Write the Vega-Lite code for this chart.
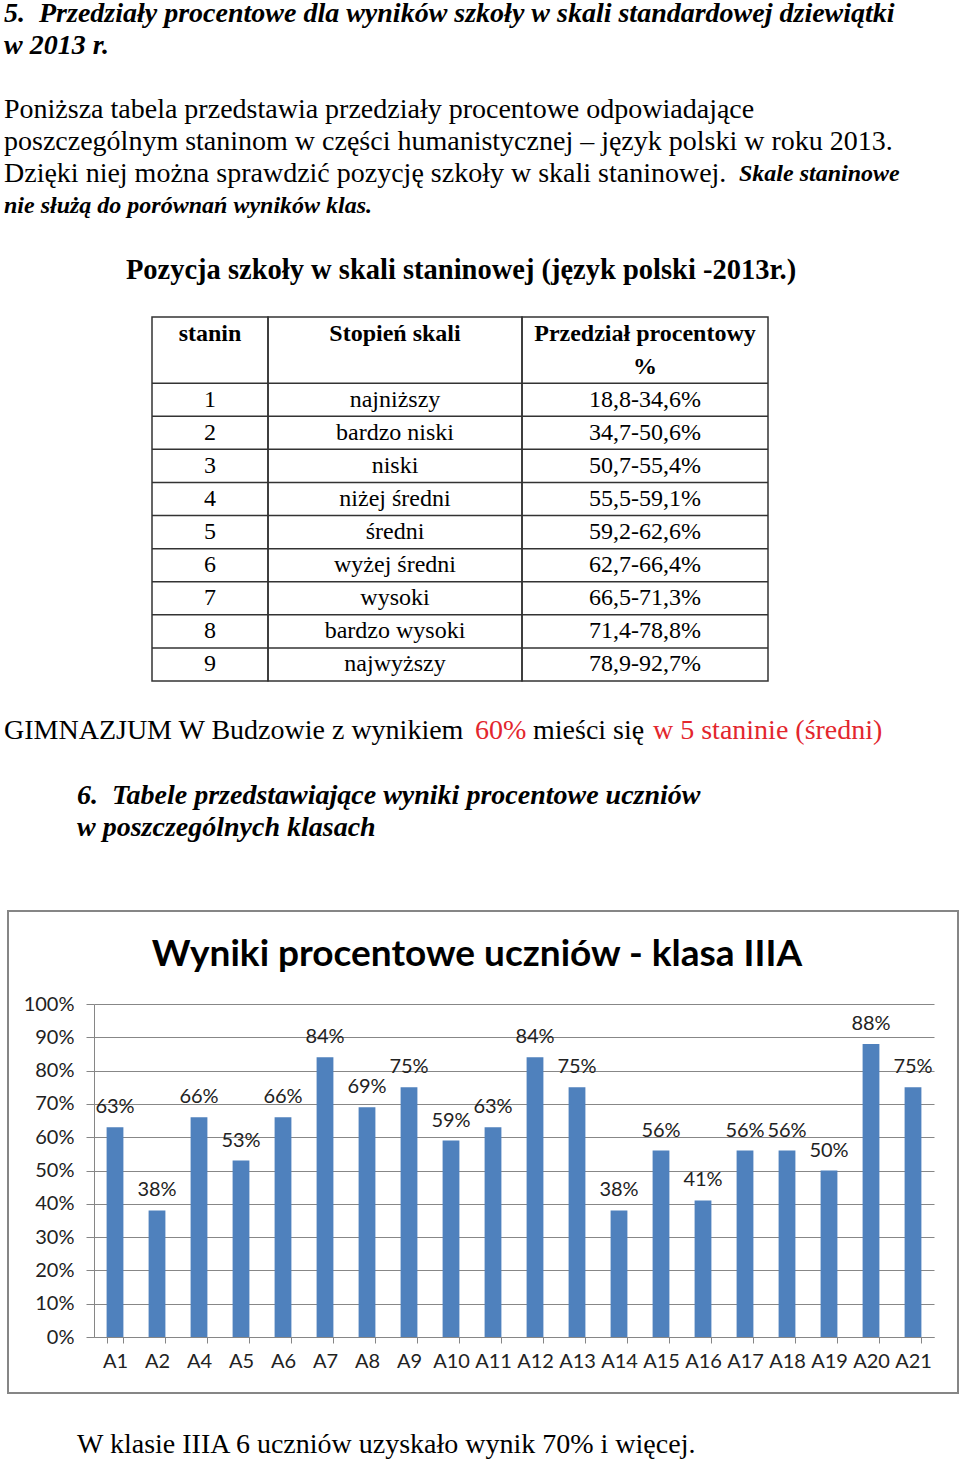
{
  "$schema": "https://vega.github.io/schema/vega-lite/v6.json",
  "background": "white",
  "padding": 0,
  "spacing": 0,
  "config": {"view": {"stroke": null}, "text": {"font": "Liberation Serif", "color": "#000"}},
  "datasets": {
    "tabela": [
      {"row": "h1", "part": "h", "stanin": "stanin", "stopien": "Stopień skali", "przedzial": "Przedział procentowy"},
      {"row": "h2", "part": "h", "stanin": "", "stopien": "", "przedzial": "%"},
      {"row": "1", "part": "b", "stanin": "1", "stopien": "najniższy", "przedzial": "18,8-34,6%"},
      {"row": "2", "part": "b", "stanin": "2", "stopien": "bardzo niski", "przedzial": "34,7-50,6%"},
      {"row": "3", "part": "b", "stanin": "3", "stopien": "niski", "przedzial": "50,7-55,4%"},
      {"row": "4", "part": "b", "stanin": "4", "stopien": "niżej średni", "przedzial": "55,5-59,1%"},
      {"row": "5", "part": "b", "stanin": "5", "stopien": "średni", "przedzial": "59,2-62,6%"},
      {"row": "6", "part": "b", "stanin": "6", "stopien": "wyżej średni", "przedzial": "62,7-66,4%"},
      {"row": "7", "part": "b", "stanin": "7", "stopien": "wysoki", "przedzial": "66,5-71,3%"},
      {"row": "8", "part": "b", "stanin": "8", "stopien": "bardzo wysoki", "przedzial": "71,4-78,8%"},
      {"row": "9", "part": "b", "stanin": "9", "stopien": "najwyższy", "przedzial": "78,9-92,7%"}
    ],
    "linie": [
      {"row": "1"}, {"row": "2"}, {"row": "3"}, {"row": "4"}, {"row": "5"},
      {"row": "6"}, {"row": "7"}, {"row": "8"}, {"row": "9"}
    ]
  },
  "vconcat": [
    {
      "width": 960,
      "height": 316,
      "data": {"values": [
        {"line": 0, "kind": "h", "text": "5.\u00a0 Przedziały procentowe dla wyników szkoły w skali standardowej dziewiątki"},
        {"line": 1, "kind": "h", "text": "w 2013 r."},
        {"line": 3, "kind": "p", "text": "Poniższa tabela przedstawia przedziały procentowe odpowiadające"},
        {"line": 4, "kind": "p", "text": "poszczególnym staninom w części humanistycznej – język polski w roku 2013."},
        {"line": 5, "kind": "p", "text": "Dzięki niej można sprawdzić pozycję szkoły w skali staninowej."},
        {"line": 5, "kind": "bi_in", "text": "Skale staninowe"},
        {"line": 6, "kind": "bi", "text": "nie służą do porównań wyników klas."},
        {"line": 8, "kind": "sub", "text": "Pozycja szkoły w skali staninowej (język polski -2013r.)"}
      ]},
      "encoding": {
        "y": {"field": "line", "type": "quantitative", "scale": {"domain": [-0.4375, 9.4375], "reverse": true, "nice": false, "zero": false}, "axis": null},
        "text": {"field": "text"}
      },
      "layer": [
        {"transform": [{"filter": "datum.kind === 'h'"}], "mark": {"type": "text", "align": "left", "baseline": "middle", "fontSize": 28, "fontWeight": "bold", "fontStyle": "italic"}, "encoding": {"x": {"value": 4}}},
        {"transform": [{"filter": "datum.kind === 'p'"}], "mark": {"type": "text", "align": "left", "baseline": "middle", "fontSize": 28}, "encoding": {"x": {"value": 4}}},
        {"transform": [{"filter": "datum.kind === 'bi_in'"}], "mark": {"type": "text", "align": "left", "baseline": "middle", "fontSize": 24, "fontWeight": "bold", "fontStyle": "italic"}, "encoding": {"x": {"value": 739}}},
        {"transform": [{"filter": "datum.kind === 'bi'"}], "mark": {"type": "text", "align": "left", "baseline": "middle", "fontSize": 24, "fontWeight": "bold", "fontStyle": "italic"}, "encoding": {"x": {"value": 4}}},
        {"transform": [{"filter": "datum.kind === 'sub'"}], "mark": {"type": "text", "align": "center", "baseline": "middle", "fontSize": 28.5, "fontWeight": "bold"}, "encoding": {"x": {"value": 461}}}
      ]
    },
    {
      "spacing": 0,
      "bounds": "flush",
      "hconcat": [
        {"width": 152, "height": 364, "data": {"values": []}, "mark": "text"},
        {
          "width": 116, "height": 364,
          "view": {"stroke": "#333", "strokeWidth": 1.5},
          "data": {"name": "tabela"},
          "encoding": {"y": {"field": "row", "type": "nominal", "sort": null, "scale": {"domain": ["h1", "h2", "1", "2", "3", "4", "5", "6", "7", "8", "9"], "paddingInner": 0, "paddingOuter": 0}, "axis": null}, "text": {"field": "stanin"}},
          "layer": [
            {"transform": [{"filter": "datum.part === 'h'"}], "mark": {"type": "text", "baseline": "middle", "fontSize": 24, "fontWeight": "bold"}},
            {"transform": [{"filter": "datum.part === 'b'"}], "mark": {"type": "text", "baseline": "middle", "fontSize": 24}},
            {"data": {"name": "linie"}, "mark": {"type": "rule", "color": "#333", "strokeWidth": 1.5}, "encoding": {"y": {"field": "row", "type": "nominal", "bandPosition": 0}, "text": null}}
          ]
        },
        {
          "width": 254, "height": 364,
          "view": {"stroke": "#333", "strokeWidth": 1.5},
          "data": {"name": "tabela"},
          "encoding": {"y": {"field": "row", "type": "nominal", "sort": null, "scale": {"domain": ["h1", "h2", "1", "2", "3", "4", "5", "6", "7", "8", "9"], "paddingInner": 0, "paddingOuter": 0}, "axis": null}, "text": {"field": "stopien"}},
          "layer": [
            {"transform": [{"filter": "datum.part === 'h'"}], "mark": {"type": "text", "baseline": "middle", "fontSize": 24, "fontWeight": "bold"}},
            {"transform": [{"filter": "datum.part === 'b'"}], "mark": {"type": "text", "baseline": "middle", "fontSize": 24}},
            {"data": {"name": "linie"}, "mark": {"type": "rule", "color": "#333", "strokeWidth": 1.5}, "encoding": {"y": {"field": "row", "type": "nominal", "bandPosition": 0}, "text": null}}
          ]
        },
        {
          "width": 246, "height": 364,
          "view": {"stroke": "#333", "strokeWidth": 1.5},
          "data": {"name": "tabela"},
          "encoding": {"y": {"field": "row", "type": "nominal", "sort": null, "scale": {"domain": ["h1", "h2", "1", "2", "3", "4", "5", "6", "7", "8", "9"], "paddingInner": 0, "paddingOuter": 0}, "axis": null}, "text": {"field": "przedzial"}},
          "layer": [
            {"transform": [{"filter": "datum.part === 'h'"}], "mark": {"type": "text", "baseline": "middle", "fontSize": 24, "fontWeight": "bold"}},
            {"transform": [{"filter": "datum.part === 'b'"}], "mark": {"type": "text", "baseline": "middle", "fontSize": 24}},
            {"data": {"name": "linie"}, "mark": {"type": "rule", "color": "#333", "strokeWidth": 1.5}, "encoding": {"y": {"field": "row", "type": "nominal", "bandPosition": 0}, "text": null}}
          ]
        }
      ]
    },
    {
      "width": 960,
      "height": 228,
      "data": {"values": [
        {"line": 0, "kind": "p1", "text": "GIMNAZJUM W Budzowie z wynikiem"},
        {"line": 0, "kind": "r1", "text": "60%"},
        {"line": 0, "kind": "p2", "text": "mieści się"},
        {"line": 0, "kind": "r2", "text": "w 5 staninie (średni)"},
        {"line": 2, "kind": "h", "text": "6.\u00a0 Tabele przedstawiające wyniki procentowe uczniów"},
        {"line": 3, "kind": "h", "text": "w poszczególnych klasach"}
      ]},
      "encoding": {
        "y": {"field": "line", "type": "quantitative", "scale": {"domain": [-1.512, 5.525], "reverse": true, "nice": false, "zero": false}, "axis": null},
        "text": {"field": "text"}
      },
      "layer": [
        {"transform": [{"filter": "datum.kind === 'p1'"}], "mark": {"type": "text", "align": "left", "baseline": "middle", "fontSize": 28}, "encoding": {"x": {"value": 4}}},
        {"transform": [{"filter": "datum.kind === 'r1'"}], "mark": {"type": "text", "align": "left", "baseline": "middle", "fontSize": 28, "color": "#e3262d"}, "encoding": {"x": {"value": 475}}},
        {"transform": [{"filter": "datum.kind === 'p2'"}], "mark": {"type": "text", "align": "left", "baseline": "middle", "fontSize": 28}, "encoding": {"x": {"value": 533}}},
        {"transform": [{"filter": "datum.kind === 'r2'"}], "mark": {"type": "text", "align": "left", "baseline": "middle", "fontSize": 28, "color": "#e3262d"}, "encoding": {"x": {"value": 653}}},
        {"transform": [{"filter": "datum.kind === 'h'"}], "mark": {"type": "text", "align": "left", "baseline": "middle", "fontSize": 28, "fontWeight": "bold", "fontStyle": "italic"}, "encoding": {"x": {"value": 77}}}
      ]
    },
    {
      "spacing": 0,
      "bounds": "flush",
      "hconcat": [
        {"width": 8, "height": 482, "data": {"values": []}, "mark": "text"},
        {
          "width": 950,
          "height": 482,
          "view": {"stroke": "#868686", "strokeWidth": 2},
          "title": {"text": "Wyniki procentowe uczniów - klasa IIIA", "frame": "group", "anchor": "middle", "orient": "top", "offset": -81, "dx": -6, "baseline": "middle", "font": "Lato", "fontSize": 37, "fontWeight": "bold", "color": "#000"},
          "data": {"values": [
            {"uczen": "A1", "wynik": 0.63}, {"uczen": "A2", "wynik": 0.38}, {"uczen": "A4", "wynik": 0.66},
            {"uczen": "A5", "wynik": 0.53}, {"uczen": "A6", "wynik": 0.66}, {"uczen": "A7", "wynik": 0.84},
            {"uczen": "A8", "wynik": 0.69}, {"uczen": "A9", "wynik": 0.75}, {"uczen": "A10", "wynik": 0.59},
            {"uczen": "A11", "wynik": 0.63}, {"uczen": "A12", "wynik": 0.84}, {"uczen": "A13", "wynik": 0.75},
            {"uczen": "A14", "wynik": 0.38}, {"uczen": "A15", "wynik": 0.56}, {"uczen": "A16", "wynik": 0.41},
            {"uczen": "A17", "wynik": 0.56}, {"uczen": "A18", "wynik": 0.56}, {"uczen": "A19", "wynik": 0.50},
            {"uczen": "A20", "wynik": 0.88}, {"uczen": "A21", "wynik": 0.75}
          ]},
          "encoding": {
            "x": {
              "field": "uczen", "type": "nominal", "sort": null,
              "scale": {"range": [86, 926], "paddingInner": 0.6, "paddingOuter": 0.3},
              "axis": {"title": null, "orient": "bottom", "offset": -56, "labelAngle": 0, "labelOverlap": false, "labelFont": "Lato", "labelFontSize": 20, "labelColor": "#222", "labelPadding": 8, "tickBand": "extent", "tickSize": 6, "tickColor": "#868686", "domainColor": "#868686", "grid": false}
            },
            "y": {
              "field": "wynik", "type": "quantitative",
              "scale": {"domain": [0, 1], "range": [426, 93], "nice": false},
              "axis": {"title": null, "orient": "left", "offset": -86, "format": ".0%", "values": [0, 0.1, 0.2, 0.3, 0.4, 0.5, 0.6, 0.7, 0.8, 0.9, 1], "labelFont": "Lato", "labelFontSize": 20, "labelColor": "#222", "labelPadding": 12, "tickSize": 8, "tickColor": "#868686", "domainColor": "#868686", "grid": true, "gridColor": "#878787", "gridWidth": 1}
            }
          },
          "layer": [
            {"mark": {"type": "bar", "color": "#4F81BD"}},
            {"mark": {"type": "text", "font": "Lato", "fontSize": 20, "color": "#222", "baseline": "middle", "dy": -20}, "encoding": {"text": {"field": "wynik", "type": "quantitative", "format": ".0%"}}}
          ]
        }
      ]
    },
    {
      "width": 960,
      "height": 69,
      "data": {"values": [{"line": 0, "text": "W klasie IIIA 6 uczniów uzyskało wynik 70% i więcej."}]},
      "mark": {"type": "text", "align": "left", "baseline": "middle", "fontSize": 28},
      "encoding": {
        "y": {"field": "line", "type": "quantitative", "scale": {"domain": [-1.594, 0.5625], "reverse": true, "nice": false, "zero": false}, "axis": null},
        "x": {"value": 77},
        "text": {"field": "text"}
      }
    }
  ]
}
